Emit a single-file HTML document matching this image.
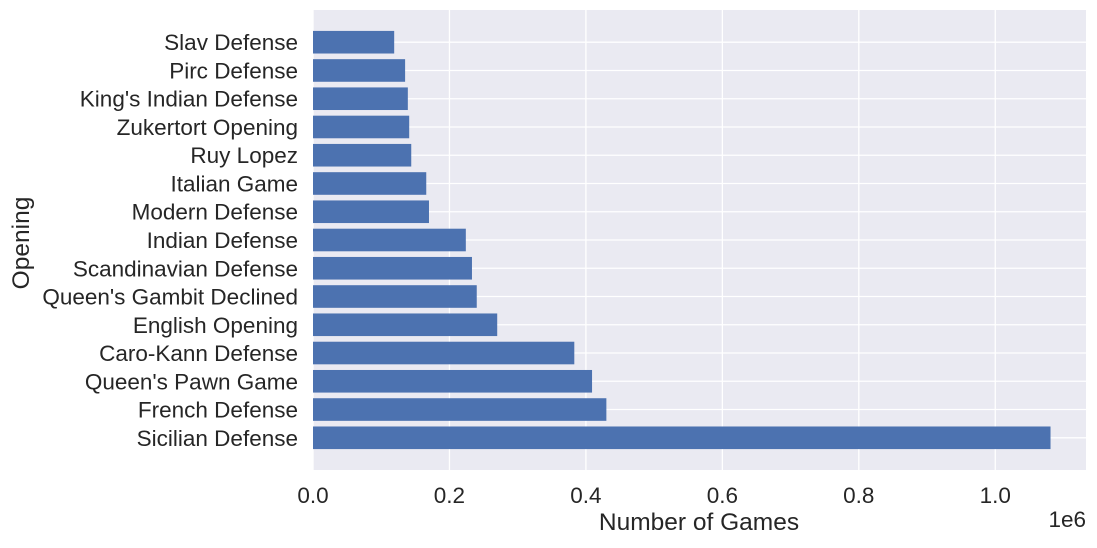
<!DOCTYPE html>
<html><head><meta charset="utf-8"><style>
body{margin:0;background:#fff;}
svg text{font-family:"Liberation Sans","DejaVu Sans",sans-serif;fill:#262626;}
</style></head><body>
<svg id="chart" width="1097" height="543"></svg>
<script>
const categories=["Sicilian Defense","French Defense","Queen's Pawn Game","Caro-Kann Defense","English Opening","Queen's Gambit Declined","Scandinavian Defense","Indian Defense","Modern Defense","Italian Game","Ruy Lopez","Zukertort Opening","King's Indian Defense","Pirc Defense","Slav Defense"];
const values=[1081000,430000,409000,383000,270000,240000,233000,224000,170000,166000,144000,141000,139000,135000,119000];
const xTicks=[0,200000,400000,600000,800000,1000000];
const xTickLabels=["0.0","0.2","0.4","0.6","0.8","1.0"];
const svg=document.getElementById('chart');
const NS='http://www.w3.org/2000/svg';
const L=313,R=1086,T=10,B=470;
const xMax=1133000;
const x=v=>L+v/xMax*(R-L);
const n=categories.length;
const yMin=-1.14,yMax=n-1+1.14;
const y=i=>B-(i-yMin)/(yMax-yMin)*(B-T);
const unit=(B-T)/(yMax-yMin);
function mk(tag,attrs){const e=document.createElementNS(NS,tag);for(const k in attrs)e.setAttribute(k,attrs[k]);svg.appendChild(e);return e;}
const bg=mk('rect',{x:L,y:T,width:R-L,height:B-T,fill:'#eaeaf2'});


xTicks.forEach((t,i)=>{
 const g=mk('line',{x1:x(t),x2:x(t),y1:T,y2:B,stroke:'#fff','stroke-width':1.3});
 
 
 const tx=mk('text',{x:x(t),y:B+33,'text-anchor':'middle','font-size':22.5});
 tx.textContent=xTickLabels[i];
 
 
});
categories.forEach((c,i)=>{
 const g=mk('line',{x1:L,x2:R,y1:y(i),y2:y(i),stroke:'#fff','stroke-width':1.3});
 
 
});
categories.forEach((c,i)=>{
 const h=unit*0.8;
 const r=mk('rect',{x:x(0),y:y(i)-h/2,width:x(values[i])-x(0),height:h,fill:'#4c72b0'});
 
 
 const tx=mk('text',{x:L-15,y:y(i)+8,'text-anchor':'end','font-size':22.5});
 tx.textContent=c;
 
 
});
const xt=mk('text',{x:699,y:530,'text-anchor':'middle','font-size':24.5});
xt.textContent='Number of Games';


const yt=mk('text',{x:0,y:0,'text-anchor':'middle','font-size':24.5,transform:'translate(29,'+((T+B)/2+3)+') rotate(-90)'});
yt.textContent='Opening';


const off=mk('text',{x:R,y:527,'text-anchor':'end','font-size':22.5});
off.textContent='1e6';


</script>
</body></html>
